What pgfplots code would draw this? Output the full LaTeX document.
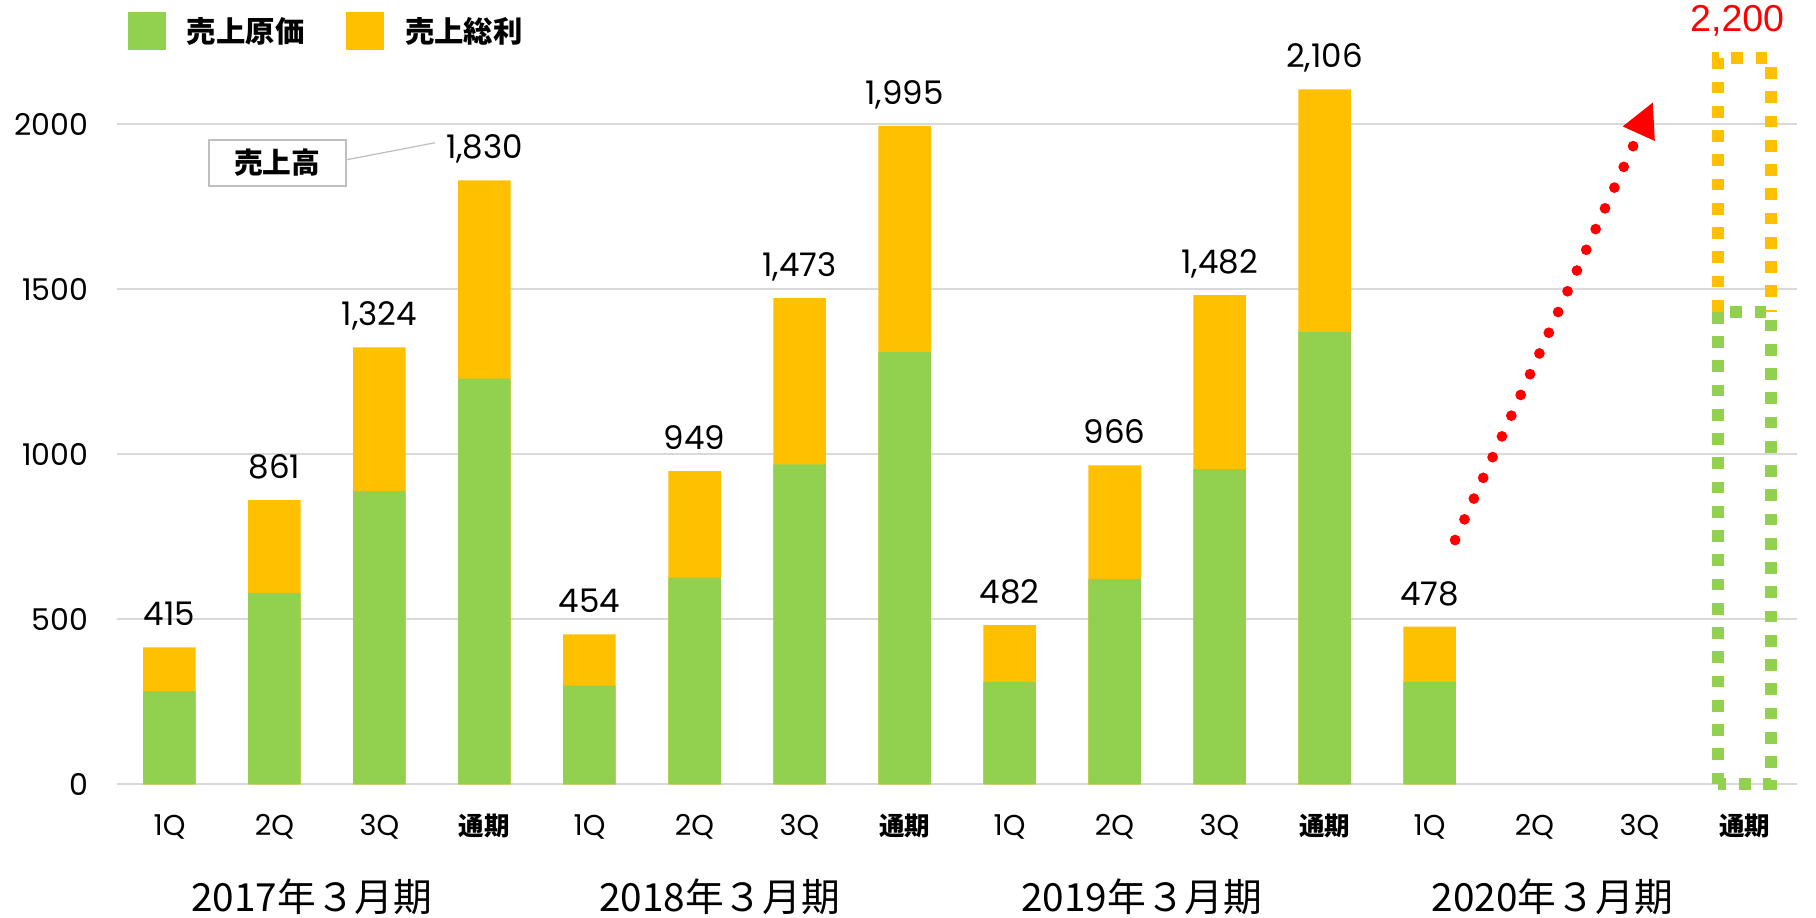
\documentclass[border=0pt]{standalone}
\usepackage{fontspec}
\usepackage{pgfplots}
\usepackage{pgfplotstable}
\pgfplotsset{compat=1.18}
\usetikzlibrary{arrows.meta}
\setmainfont{Poppins}
\newfontfamily\jp{Noto Sans CJK JP}
\newfontfamily\arialf{Liberation Sans}
\definecolor{cgreen}{HTML}{92D050}
\definecolor{corange}{HTML}{FFC000}
\definecolor{cgrid}{HTML}{D9D9D9}
\newcommand\TK{{\jp\bfseries\fontsize{10.2}{12}\selectfont 通期}}

% green = 売上原価, gross = 売上総利, total = 売上高
\pgfplotstableread{
x green gross total
0 282 133 415
1 580 281 861
2 889 435 1324
3 1229 601 1830
4 299 155 454
5 626 323 949
6 969 504 1473
7 1310 685 1995
8 310 172 482
9 622 344 966
10 955 527 1482
11 1370 736 2106
12 310 168 478
}\sales

\begin{document}
\begin{tikzpicture}
\path[use as bounding box] (-46.8pt,-53.5pt) rectangle (679.6pt,313.7pt);
\begin{axis}[
  at={(0pt,0pt)}, anchor=south west,
  scale only axis, width=672pt, height=290.4pt,
  xmin=-0.5, xmax=15.5, ymin=0, ymax=2200,
  clip=false,
  ybar, bar width=21pt, bar shift=0pt,
  axis line style={draw=none}, tick style={draw=none},
  ymajorgrids, grid style={cgrid, line width=0.8pt},
  ytick={0,500,1000,1500,2000},
  xtick={0,...,15},
  xticklabels={1Q,2Q,3Q,\TK,1Q,2Q,3Q,\TK,1Q,2Q,3Q,\TK,1Q,2Q,3Q,\TK},
  /pgf/number format/assume math mode=true,
  yticklabel style={font=\fontsize{12}{14}\selectfont, /pgf/number format/1000 sep={}, anchor=east, inner sep=0pt, xshift=-11.2pt},
  xticklabel style={font=\fontsize{11.5}{14}\selectfont, anchor=base, inner sep=0pt, yshift=-16.4pt},
  legend image code/.code={\fill[#1,draw=none] (0pt,-7.3pt) rectangle (15.2pt,7.9pt);},
  legend columns=2,
  legend cell align=left,
  legend style={draw=none, fill=none, inner sep=0pt, column sep=0pt,
    at={(0.00637,1.0372)}, anchor=west,
    font=\jp\bfseries\fontsize{11.75}{14}\selectfont,
    nodes={inner sep=0pt},
    /tikz/every odd column/.append style={column sep=8.3pt},
    /tikz/every even column/.append style={column sep=16.8pt}},
]
\addlegendimage{fill=cgreen}
\addlegendentry{売上原価}
\addlegendimage{fill=corange}
\addlegendentry{売上総利}

% full bar = 売上高 (orange part shows above the green part)
\addplot[fill=corange, draw=none, forget plot,
  nodes near coords, point meta=explicit,
  every node near coord/.append style={font=\fontsize{13}{15}\selectfont, anchor=base, inner sep=0pt, yshift=8.6pt, /pgf/number format/1000 sep={,}, text=black}]
  table[x=x,y=total,meta=total]{\sales};
\addplot[fill=cgreen, draw=none, forget plot] table[x=x,y=green]{\sales};

% projected full-year bar (outline only)
\addplot[sharp plot, forget plot, cgreen, line width=4.7pt, dash pattern=on 4.7pt off 5pt]
  coordinates {(14.748,0)(14.748,1432)(15.252,1432)(15.252,0)(14.748,0)};
\addplot[sharp plot, forget plot, corange, line width=4.7pt, dash pattern=on 4.7pt off 5pt]
  coordinates {(14.748,1432)(14.748,2200)(15.252,2200)(15.252,1432)};
% red dotted arrow
\addplot[sharp plot, forget plot, red, line width=4.3pt, line cap=round, dash pattern=on 0pt off 9.1pt, -{Triangle[length=14pt,width=13pt]}]
  coordinates {(12.244,740)(14.13,2068)};

\node[text=red, font=\arialf\fontsize{15}{18}\selectfont] at (axis cs:14.93,2313) {2,200};

\node[draw=black!25, line width=0.7pt, minimum width=54.8pt, minimum height=18.4pt, inner sep=0pt, font=\jp\bfseries\fontsize{11.5}{14}\selectfont] at (axis cs:1.027,1883) {売上高};
\draw[black!25, line width=0.5pt] (axis cs:1.679,1892) -- (axis cs:2.53,1944);

\node[anchor=base, font=\jp\fontsize{15.5}{18}\selectfont] at (axis cs:1.355,-387) {2017年３月期};
\node[anchor=base, font=\jp\fontsize{15.5}{18}\selectfont] at (axis cs:5.24,-387) {2018年３月期};
\node[anchor=base, font=\jp\fontsize{15.5}{18}\selectfont] at (axis cs:9.26,-387) {2019年３月期};
\node[anchor=base, font=\jp\fontsize{15.5}{18}\selectfont] at (axis cs:13.17,-387) {2020年３月期};
\end{axis}
\end{tikzpicture}
\end{document}
